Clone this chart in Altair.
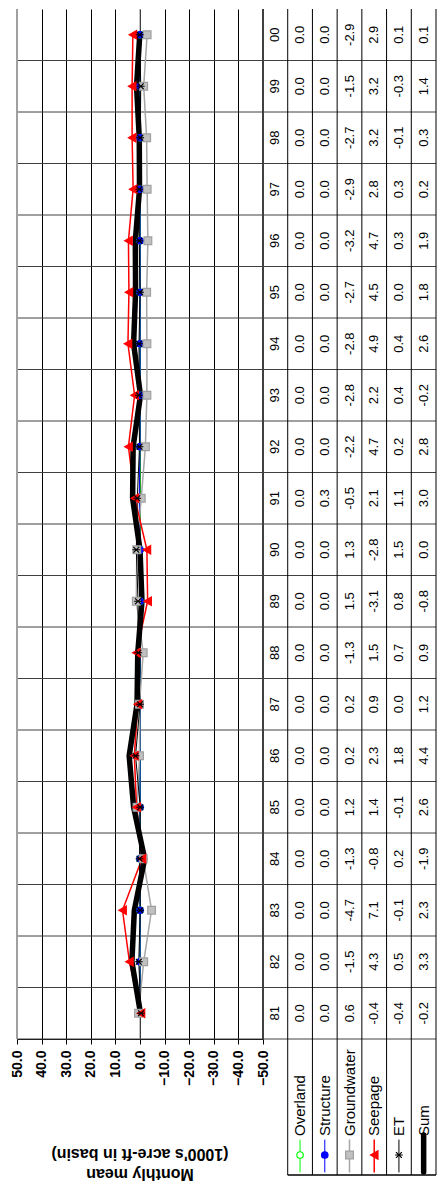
import altair as alt
import pandas as pd

# ---------------- data ----------------
years = ["81", "82", "83", "84", "85", "86", "87", "88", "89", "90",
         "91", "92", "93", "94", "95", "96", "97", "98", "99", "00"]
overland = [0.0, 0.0, 0.0, 0.0, 0.0, 0.0, 0.0, 0.0, 0.0, 0.0,
            0.0, 0.0, 0.0, 0.0, 0.0, 0.0, 0.0, 0.0, 0.0, 0.0]
structure = [0.0, 0.0, 0.0, 0.0, 0.0, 0.0, 0.0, 0.0, 0.0, 0.0,
             0.3, 0.0, 0.0, 0.0, 0.0, 0.0, 0.0, 0.0, 0.0, 0.0]
groundwater = [0.6, -1.5, -4.7, -1.3, 1.2, 0.2, 0.2, -1.3, 1.5, 1.3,
               -0.5, -2.2, -2.8, -2.8, -2.7, -3.2, -2.9, -2.7, -1.5, -2.9]
seepage = [-0.4, 4.3, 7.1, -0.8, 1.4, 2.3, 0.9, 1.5, -3.1, -2.8,
           2.1, 4.7, 2.2, 4.9, 4.5, 4.7, 2.8, 3.2, 3.2, 2.9]
et = [-0.4, 0.5, -0.1, 0.2, -0.1, 1.8, 0.0, 0.7, 0.8, 1.5,
      1.1, 0.2, 0.4, 0.4, 0.0, 0.3, 0.3, -0.1, -0.3, 0.1]
total = [-0.2, 3.3, 2.3, -1.9, 2.6, 4.4, 1.2, 0.9, -0.8, 0.0,
         3.0, 2.8, -0.2, 2.6, 1.8, 1.9, 0.2, 0.3, 1.4, 0.1]
series_names = ["Overland", "Structure", "Groundwater", "Seepage", "ET", "Sum"]
series_values = [overland, structure, groundwater, seepage, et, total]
value_ticks = [50, 40, 30, 20, 10, 0, -10, -20, -30, -40, -50]
axis_title = ["Monthly mean", "(1000's acre-ft in basin)"]

# ---------------- styles ----------------
FONT = "Liberation Sans"
W_PLOT, W_TAB, H = 246, 173, 1030
ASTER = "M-1,0L1,0M-0.75,-0.75L0.75,0.75M-0.75,0.75L0.75,-0.75"
styles = {
    "Overland": dict(color="#00FF00", width=1.0, shape="circle", filled=False,
                     fill="#00FF00", stroke="#00FF00", size=42),
    "Structure": dict(color="#0000FF", width=1.0, shape="circle", filled=True,
                      fill="#0000FF", stroke="#0000FF", size=42),
    "Groundwater": dict(color="#A6A6A6", width=1.5, shape="square", filled=True,
                        fill="#C0C0C0", stroke="#A0A0A0", size=60),
    "Seepage": dict(color="#FF0000", width=1.5, shape="triangle-left", filled=True,
                    fill="#FF0000", stroke="#FF0000", size=75),
    "ET": dict(color="#000000", width=1.0, shape=ASTER, filled=False,
               fill="#000000", stroke="#000000", size=60),
    "Sum": dict(color="#000000", width=5.5, shape=None),
}

n = len(years)
ncol = len(series_names) + 1

long_df = pd.DataFrame([
    {"i": k, "series": s, "value": v}
    for s, vals in zip(series_names, series_values)
    for k, v in enumerate(vals)
])

# ---------------- plot panel ----------------
xscale = alt.Scale(domain=[value_ticks[-1], value_ticks[0]], reverse=True, nice=False, zero=False)
yscale = alt.Scale(domain=[-0.5, n - 0.5], nice=False, zero=False)
xaxis = alt.Axis(
    values=value_ticks, format=".1f", labelAngle=270, labelAlign="right",
    labelBaseline="middle", labelFont=FONT, labelFontSize=14, labelFontWeight="bold",
    labelColor="#000000", labelPadding=6, tickSize=5, tickColor="#000000",
    domainColor="#000000", grid=True, gridColor="#000000", gridWidth=1,
    gridOpacity=1, title=None, labelFlush=False,
)
X = alt.X("value:Q", scale=xscale, axis=xaxis)
Y = alt.Y("i:Q", scale=yscale, axis=None)

zero_line = alt.Chart(pd.DataFrame({"value": [0]})).mark_rule(
    color="#808080", strokeWidth=1).encode(x=X)
left_edge = alt.Chart(pd.DataFrame({"value": [value_ticks[0]]})).mark_rule(
    color="#A0A0A0", strokeWidth=2).encode(x=X)
row_bounds = pd.DataFrame({"i": [k - 0.5 for k in range(n)]})
row_rules = alt.Chart(row_bounds).mark_rule(color="#404040", strokeWidth=1).encode(y=Y)

# upside-down axis title (the whole chart is rotated), one text mark per line
title_df = pd.DataFrame({"line": axis_title})
title_lines = []
for txt, off in zip(axis_title, [135, 115]):
    title_lines.append(
        alt.Chart(title_df).transform_filter(alt.datum.line == txt)
        .mark_text(angle=180, align="center", baseline="middle", font=FONT,
                   fontSize=16, fontWeight="bold", color="#000000")
        .encode(x=alt.value(W_PLOT / 2), y=alt.value(H + off), text="line:N")
    )

layers = [row_rules, zero_line, left_edge]
base = alt.Chart(long_df)
for s in series_names:
    st = styles[s]
    layers.append(
        base.transform_filter(alt.datum.series == s)
        .mark_line(color=st["color"], strokeWidth=st["width"],
                   strokeJoin="round", strokeCap="round")
        .encode(x=X, y=Y, order="i:Q")
    )
for s in series_names:
    st = styles[s]
    if st["shape"] is None:
        continue
    kw = dict(shape=st["shape"], size=st["size"], stroke=st["stroke"],
              strokeWidth=1.2, opacity=1, filled=st["filled"])
    if st["filled"]:
        kw["fill"] = st["fill"]
    layers.append(
        base.transform_filter(alt.datum.series == s)
        .mark_point(**kw)
        .encode(x=X, y=Y)
    )
layers += title_lines

plot = alt.layer(*layers).properties(width=W_PLOT, height=H)

# ---------------- data table panel (with legend drawn beneath it) ----------------
table_rows = []
for k in range(n):
    table_rows.append({"i": k, "j": 0, "label": years[k]})
    for jj, vals in enumerate(series_values, start=1):
        table_rows.append({"i": k, "j": jj, "label": f"{vals[k]:.1f}"})
table_df = pd.DataFrame(table_rows)

XT = alt.X("j:Q", scale=alt.Scale(domain=[-0.5, ncol - 0.5], nice=False, zero=False), axis=None)

tab_text = alt.Chart(table_df).mark_text(
    angle=270, align="center", baseline="middle", font=FONT, fontSize=13, color="#000000"
).encode(x=XT, y=Y, text="label:N")
col_rules = alt.Chart(pd.DataFrame({"j": [c - 0.5 for c in range(1, ncol + 1)]})).mark_rule(
    color="#000000", strokeWidth=1).encode(x=XT)
tab_left = alt.Chart(pd.DataFrame({"j": [-0.5]})).mark_rule(
    color="#404040", strokeWidth=2).encode(x=XT)
tab_rows = alt.Chart(row_bounds).mark_rule(color="#404040", strokeWidth=1).encode(y=Y)

# legend cells below the table
LEG_BOTTOM = 136
leg_df = pd.DataFrame([
    {"j": jj, "series": s}
    for jj, s in enumerate(series_names, start=1)
])
leg_bounds = pd.DataFrame({"j": [c - 0.5 for c in range(1, ncol + 1)]})
leg_vrules = alt.Chart(leg_bounds).mark_rule(color="#000000", strokeWidth=1).encode(
    x=XT, y=alt.value(H), y2=alt.value(H + LEG_BOTTOM))
leg_bottom = alt.Chart(pd.DataFrame({"j": [0.5], "j2": [ncol - 0.5]})).mark_rule(
    color="#000000", strokeWidth=1.5).encode(x=XT, x2="j2:Q", y=alt.value(H + LEG_BOTTOM))
leg_lines = []
for s in series_names:
    st = styles[s]
    top = 96 if s == "Sum" else 101
    leg_lines.append(
        alt.Chart(leg_df).transform_filter(alt.datum.series == s)
        .mark_rule(color=st["color"], strokeWidth=st["width"], strokeCap="round")
        .encode(x=XT, y=alt.value(H + top), y2=alt.value(H + 133))
    )
leg_marks = []
for s in series_names:
    st = styles[s]
    if st["shape"] is None:
        continue
    kw = dict(shape=st["shape"], size=st["size"], stroke=st["stroke"],
              strokeWidth=1.2, opacity=1)
    if s == "ET":
        kw["filled"] = False
    elif st["filled"]:
        kw["filled"] = True
        kw["fill"] = st["fill"]
    else:
        kw["filled"] = True
        kw["fill"] = "#FFFFFF"
    leg_marks.append(
        alt.Chart(leg_df).transform_filter(alt.datum.series == s)
        .mark_point(**kw).encode(x=XT, y=alt.value(H + 116))
    )
leg_text = alt.Chart(leg_df).mark_text(
    angle=270, align="left", baseline="middle", font=FONT, fontSize=15, color="#000000"
).encode(x=XT, y=alt.value(H + 97), text="series:N")

table = alt.layer(
    tab_rows, col_rules, tab_left, tab_text,
    leg_vrules, leg_bottom, *leg_lines, *leg_marks, leg_text
).properties(width=W_TAB, height=H)

chart = (
    alt.hconcat(plot, table, spacing=0, bounds="flush")
    .resolve_scale(x="independent", y="independent")
    .properties(padding={"left": 2, "top": 0, "right": 0, "bottom": 0})
    .configure_view(stroke=None)
)

chart.save("out.html", embed_options={"renderer": "svg", "actions": False})
